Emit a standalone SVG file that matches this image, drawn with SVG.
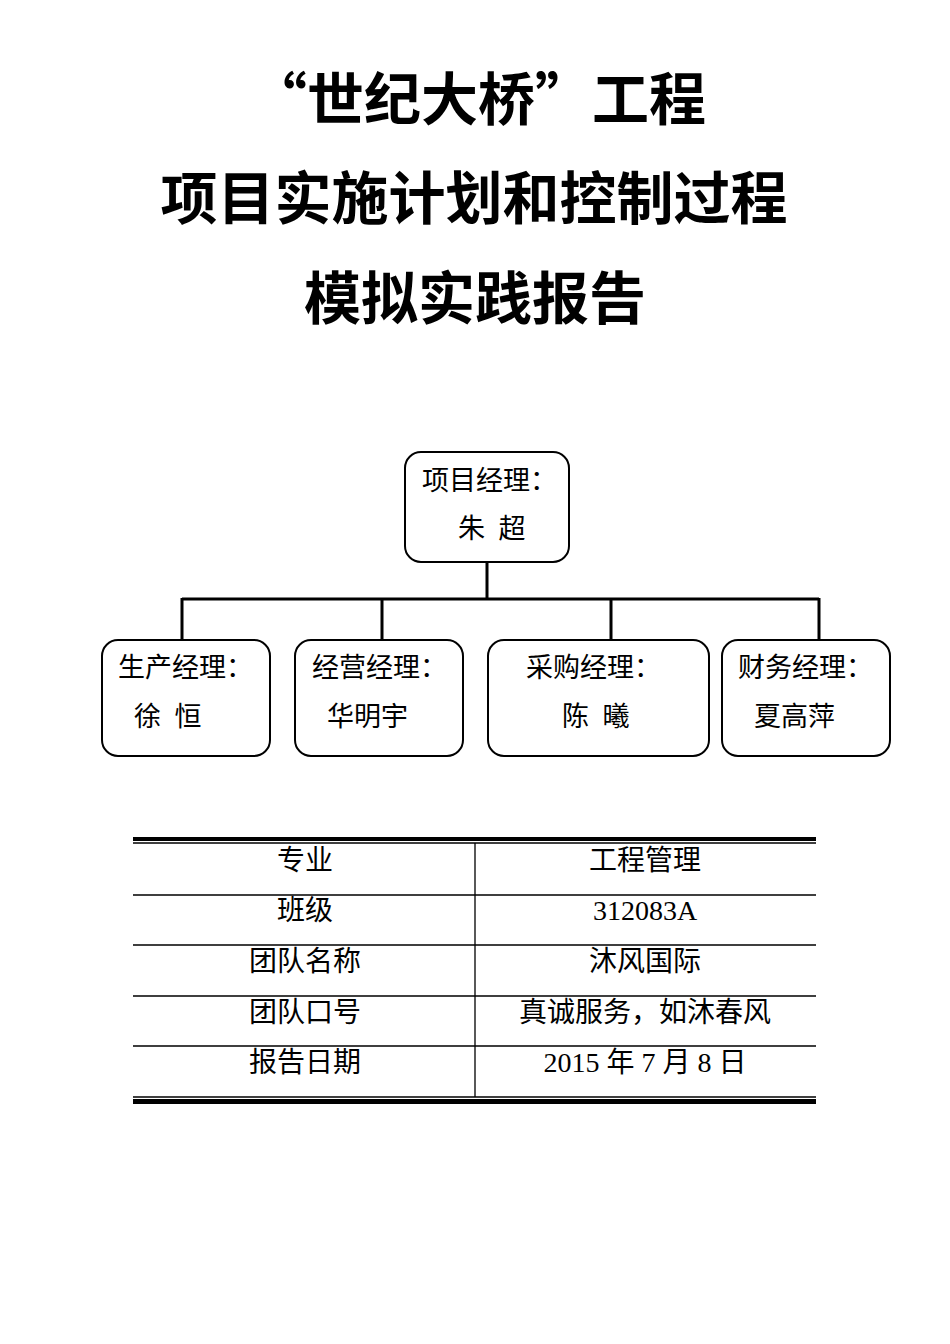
<svg xmlns="http://www.w3.org/2000/svg" width="950" height="1344" viewBox="0 0 950 1344">
<style>
.t{font-family:"Noto Sans CJK SC",sans-serif;font-weight:bold;font-size:57px;text-anchor:middle;fill:#000}
.n{font-family:"Liberation Serif","Noto Sans CJK SC",serif;font-size:27px;fill:#000}
.c{font-family:"Liberation Serif","Noto Sans CJK SC",serif;font-size:28px;fill:#000;text-anchor:middle}
.b{fill:#fff;stroke:#000;stroke-width:2}
.l{stroke:#000;stroke-width:3;fill:none}
.g{stroke:#000;stroke-width:1.3}
</style>
<rect width="950" height="1344" fill="#fff"/>
<text class="t" x="478" y="120">“世纪大桥”工程</text>
<text class="t" x="474" y="219">项目实施计划和控制过程</text>
<text class="t" x="475" y="319">模拟实践报告</text>
<g id="connectors">
<path class="l" d="M487 562V599M182 599H819M182 598V640M382 598V640M611 598V640M819 598V640"/>
</g>
<g id="pm"><rect class="b" x="405" y="452" width="164" height="110" rx="16"/><text class="n" x="422" y="490">项目经理：</text><text class="n" x="458" y="538" xml:space="preserve">朱  超</text></g>
<g id="prod"><rect class="b" x="102" y="640" width="168" height="116" rx="16"/><text class="n" x="118" y="677">生产经理：</text><text class="n" x="134" y="726" xml:space="preserve">徐  恒</text></g>
<g id="biz"><rect class="b" x="295" y="640" width="168" height="116" rx="16"/><text class="n" x="312" y="677">经营经理：</text><text class="n" x="327" y="726">华明宇</text></g>
<g id="buy"><rect class="b" x="488" y="640" width="221" height="116" rx="16"/><text class="n" x="526" y="677">采购经理：</text><text class="n" x="562" y="726" xml:space="preserve">陈  曦</text></g>
<g id="fin"><rect class="b" x="722" y="640" width="168" height="116" rx="16"/><text class="n" x="738" y="677">财务经理：</text><text class="n" x="754" y="726">夏高萍</text></g>
<g id="table">
<rect x="133" y="837" width="683" height="4" fill="#000"/>
<path class="g" d="M133 843H816M133 895H816M133 945H816M133 996H816M133 1046H816M133 1097H816M475 843V1097"/>
<rect x="133" y="1099" width="683" height="5" fill="#000"/>
<text class="c" x="305" y="870">专业</text><text class="c" x="645" y="870">工程管理</text>
<text class="c" x="305" y="920">班级</text><text class="c" x="645" y="920">312083A</text>
<text class="c" x="305" y="971">团队名称</text><text class="c" x="645" y="971">沐风国际</text>
<text class="c" x="305" y="1022">团队口号</text><text class="c" x="645" y="1022">真诚服务，如沐春风</text>
<text class="c" x="305" y="1072">报告日期</text><text class="c" x="645" y="1072">2015 年 7 月 8 日</text>
</g>
</svg>
